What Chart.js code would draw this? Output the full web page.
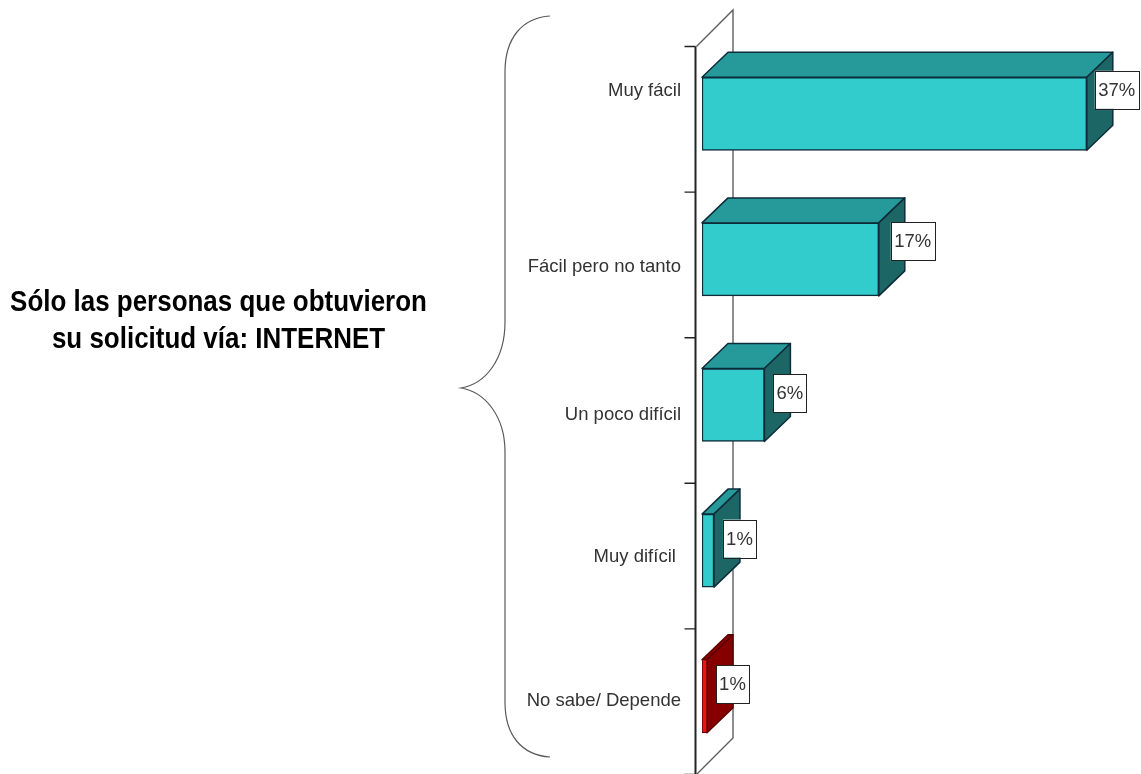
<!DOCTYPE html>
<html lang="es">
<head>
<meta charset="utf-8">
<style>html,body{margin:0;padding:0;background:#fff}canvas{display:block}</style>
<script src="https://cdn.jsdelivr.net/npm/chart.js@4/dist/chart.umd.min.js"></script>
</head>
<body>
<canvas id="c" width="1141" height="774"></canvas>
<script>
const categories = ["Muy fácil", "Fácil pero no tanto", "Un poco difícil", "Muy difícil ", "No sabe/ Depende"];
const values = [37, 17, 6, 1.15, 0.48];
const valueLabels = ["37%", "17%", "6%", "1%", "1%"];
const frontColors = ["#33cccc", "#33cccc", "#33cccc", "#33cccc", "#e81414"];
const topColors = ["#269a9a", "#269a9a", "#269a9a", "#269a9a", "#8a0000"];
const sideColors = ["#1d6666", "#1d6666", "#1d6666", "#1d6666", "#860000"];
const edgeColors = ["#0d2c3a", "#0d2c3a", "#0d2c3a", "#0d2c3a", "#5a0000"];
const edgeWidths = [1.5, 1.5, 1.5, 1.5, 1];
const titleLines = ["Sólo las personas que obtuvieron", "su solicitud vía: INTERNET"];

const labelDy = [-23, 8, 10, 6, 5];
const boxDx = [8, 12, 9, 9, 9];
const boxDy = [-24, -18, -12, -12, -12];
const DEPTH_X = 26, DEPTH_Y = 25;
const TITLE_SQUEEZE = 0.895;

const scene = {
  id: "scene",
  beforeDatasetsDraw(chart) {
    const { ctx } = chart;
    const xs = chart.scales.x, ys = chart.scales.y;
    const x0 = xs.getPixelForValue(0);
    const step = 145.6;
    const first = ys.getPixelForValue(0) - step / 2 + 5.5;
    const axisX = x0 - 6.5, backX = x0 + 31;
    const bottom = first + step * categories.length;

    ctx.save();
    // wall outline
    ctx.strokeStyle = "#5e5e5e";
    ctx.lineWidth = 1.4;
    ctx.beginPath();
    ctx.moveTo(axisX + 1, first);
    ctx.lineTo(backX, first - 36.5);
    ctx.lineTo(backX, bottom - 36.5);
    ctx.lineTo(axisX + 1, bottom);
    ctx.stroke();
    // axis and ticks
    ctx.strokeStyle = "#222";
    ctx.lineWidth = 2;
    ctx.beginPath();
    ctx.moveTo(axisX, first);
    ctx.lineTo(axisX, bottom);
    ctx.stroke();
    ctx.lineWidth = 1.4;
    ctx.beginPath();
    for (let i = 0; i <= categories.length; i++) {
      const y = first + step * i;
      ctx.moveTo(axisX - 11, y);
      ctx.lineTo(axisX, y);
    }
    ctx.stroke();
    // 3D faces of each bar
    const bars = chart.getDatasetMeta(0).data;
    ctx.lineWidth = 1.5;
    ctx.lineJoin = "round";
    bars.forEach((bar, i) => {
      const p = bar.getProps(["x", "y", "height"], true);
      const t = p.y - p.height / 2, b = p.y + p.height / 2, r = p.x;
      ctx.strokeStyle = edgeColors[i];
      ctx.fillStyle = topColors[i];
      ctx.beginPath();
      ctx.moveTo(x0, t);
      ctx.lineTo(x0 + DEPTH_X, t - DEPTH_Y);
      ctx.lineTo(r + DEPTH_X, t - DEPTH_Y);
      ctx.lineTo(r, t);
      ctx.closePath();
      ctx.fill(); ctx.stroke();
      ctx.fillStyle = sideColors[i];
      ctx.beginPath();
      ctx.moveTo(r, t);
      ctx.lineTo(r + DEPTH_X, t - DEPTH_Y);
      ctx.lineTo(r + DEPTH_X, b - DEPTH_Y);
      ctx.lineTo(r, b);
      ctx.closePath();
      ctx.fill(); ctx.stroke();
    });
    ctx.restore();
  },
  afterDatasetsDraw(chart) {
    const { ctx } = chart;
    const ys = chart.scales.y;
    const bars = chart.getDatasetMeta(0).data;
    ctx.save();
    // value boxes
    ctx.textBaseline = "middle";
    ctx.textAlign = "center";
    ctx.font = "18.5px 'Liberation Sans', Arial, sans-serif";
    bars.forEach((bar, i) => {
      const p = bar.getProps(["x", "y"], true);
      const w = valueLabels[i].length > 2 ? 44 : 33, h = 38;
      const l = p.x + boxDx[i], cy = p.y + boxDy[i];
      ctx.fillStyle = "#fff";
      ctx.fillRect(l, cy - h / 2, w, h);
      ctx.strokeStyle = "#222";
      ctx.lineWidth = 1;
      ctx.strokeRect(Math.round(l) + .5, Math.round(cy - h / 2) + .5, w, h);
      ctx.fillStyle = "#333";
      ctx.fillText(valueLabels[i], l + w / 2, cy + 1);
    });
    // category labels
    ctx.textAlign = "right";
    ctx.fillStyle = "#333";
    ctx.font = "18.5px 'Liberation Sans', Arial, sans-serif";
    categories.forEach((c, i) => {
      ctx.fillText(c, 681, ys.getPixelForValue(i) + labelDy[i]);
    });
    // brace
    ctx.strokeStyle = "#5a5a5a";
    ctx.lineWidth = 1.2;
    ctx.beginPath();
    ctx.moveTo(550, 16);
    ctx.bezierCurveTo(522, 18, 505, 38, 505, 72);
    ctx.lineTo(505, 322);
    ctx.bezierCurveTo(505, 360, 485, 384, 461, 388);
    ctx.bezierCurveTo(485, 392, 505, 416, 505, 452);
    ctx.lineTo(505, 702);
    ctx.bezierCurveTo(505, 736, 522, 755, 550, 757);
    ctx.stroke();
    // side caption
    ctx.fillStyle = "#000";
    ctx.textAlign = "center";
    ctx.font = "bold 29px 'Liberation Sans', Arial, sans-serif";
    ctx.scale(TITLE_SQUEEZE, 1);
    ctx.fillText(titleLines[0], 218.5 / TITLE_SQUEEZE, 303);
    ctx.fillText(titleLines[1], 218.5 / TITLE_SQUEEZE, 340);
    ctx.restore();
  }
};

new Chart(document.getElementById("c"), {
  type: "bar",
  data: {
    labels: categories,
    datasets: [{
      data: values,
      backgroundColor: frontColors,
      borderColor: edgeColors,
      borderWidth: edgeWidths,
      borderSkipped: false,
      barThickness: 73
    }]
  },
  options: {
    indexAxis: "y",
    responsive: false,
    animation: false,
    layout: { padding: { left: 702, right: 23, top: 41, bottom: 5 } },
    plugins: { legend: { display: false }, title: { display: false }, tooltip: { enabled: false } },
    scales: {
      x: { display: false, min: 0, max: 40 },
      y: { display: false }
    }
  },
  plugins: [scene]
});
</script>
</body>
</html>
